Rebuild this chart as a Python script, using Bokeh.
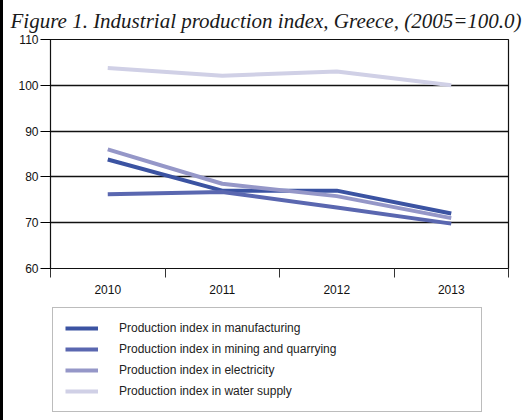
from bokeh.plotting import figure
from bokeh.models import FixedTicker, Legend, LegendItem
from bokeh.layouts import column
from bokeh.embed import file_html
from bokeh.resources import INLINE

years = ["2010", "2011", "2012", "2013"]
manufacturing = [83.8, 77.0, 77.0, 72.0]
mining = [76.2, 76.7, 73.3, 69.8]
electricity = [86.0, 78.5, 75.8, 71.0]
water = [103.8, 102.1, 103.0, 100.0]
series_names = [
    "Production index in manufacturing",
    "Production index in mining and quarrying",
    "Production index in electricity",
    "Production index in water supply",
]
colors = ["#3b53a2", "#5a67b0", "#9597c8", "#d0d0e6"]
y_ticks = [60, 70, 80, 90, 100, 110]
series = [manufacturing, mining, electricity, water]

xs = [i + 0.5 for i in range(len(years))]

p = figure(width=522, height=305, output_backend="svg", toolbar_location=None,
           x_range=(0, len(years)), y_range=(60, 110),
           min_border_left=47, min_border_right=17, min_border_bottom=37,
           min_border_top=0,
           title="Figure 1. Industrial production index, Greece, (2005=100.0)")

p.title.text_font = "Liberation Serif"
p.title.text_font_style = "italic"
p.title.text_font_size = "21px"
p.title.text_color = "#1a1a1a"
p.title.align = "left"
p.title.offset = -40
p.title.standoff = 13

p.outline_line_color = "#111111"
p.outline_line_width = 1.2
p.background_fill_color = "white"

# y axis
p.yaxis.ticker = FixedTicker(ticks=y_ticks)
p.yaxis.axis_line_color = "#111111"
p.yaxis.major_tick_out = 10
p.yaxis.major_tick_in = 0
p.yaxis.minor_tick_line_color = None
p.yaxis.major_label_text_font = "Liberation Sans"
p.yaxis.major_label_text_font_size = "12px"
p.yaxis.major_label_text_color = "#111111"
p.yaxis.major_label_standoff = 2

# x axis: labels at centers, ticks at boundaries
p.xaxis.ticker = FixedTicker(ticks=xs, minor_ticks=list(range(len(years) + 1)))
p.xaxis.major_label_overrides = {x: y for x, y in zip(xs, years)}
p.xaxis.major_tick_out = 0
p.xaxis.major_tick_in = 0
p.xaxis.minor_tick_out = 9
p.xaxis.minor_tick_in = 0
p.xaxis.minor_tick_line_color = "#333333"
p.xaxis.axis_line_color = "#111111"
p.xaxis.major_label_text_font = "Liberation Sans"
p.xaxis.major_label_text_font_size = "12px"
p.xaxis.major_label_text_color = "#111111"
p.xaxis.major_label_standoff = 7

p.xgrid.grid_line_color = None
p.ygrid.grid_line_color = "#111111"
p.ygrid.grid_line_width = 1.3

for vals, c in zip(series, colors):
    p.line(xs, vals, line_color=c, line_width=4)

# legend panel (same borders as the chart so frames stay aligned)
q = figure(width=522, height=115, output_backend="svg", toolbar_location=None,
           x_range=(0, 1), y_range=(0, 1),
           min_border_left=47, min_border_right=17, min_border_top=0,
           min_border_bottom=0)
q.axis.visible = False
q.grid.visible = False
q.outline_line_color = None

items = []
for name, vals, c in zip(series_names, series, colors):
    # same series; the 0..1 range keeps the lines themselves out of view
    r = q.line(xs, vals, line_color=c, line_width=4)
    items.append(LegendItem(label=name, renderers=[r]))

legend = Legend(items=items, location="top_left")
legend.border_line_color = "#7a7a7a"
legend.border_line_width = 1.3
legend.padding = 12
legend.margin = 2
legend.spacing = 5
legend.label_height = 16
legend.glyph_height = 16
legend.glyph_width = 33
legend.label_standoff = 21
legend.label_width = 350
legend.label_text_font = "Liberation Sans"
legend.label_text_font_size = "12px"
legend.label_text_color = "#222222"
q.add_layout(legend, "center")

layout = column(p, q, spacing=0, styles={"border-left": "3px solid black"})

open("out.html", "w").write(file_html(layout, INLINE))
